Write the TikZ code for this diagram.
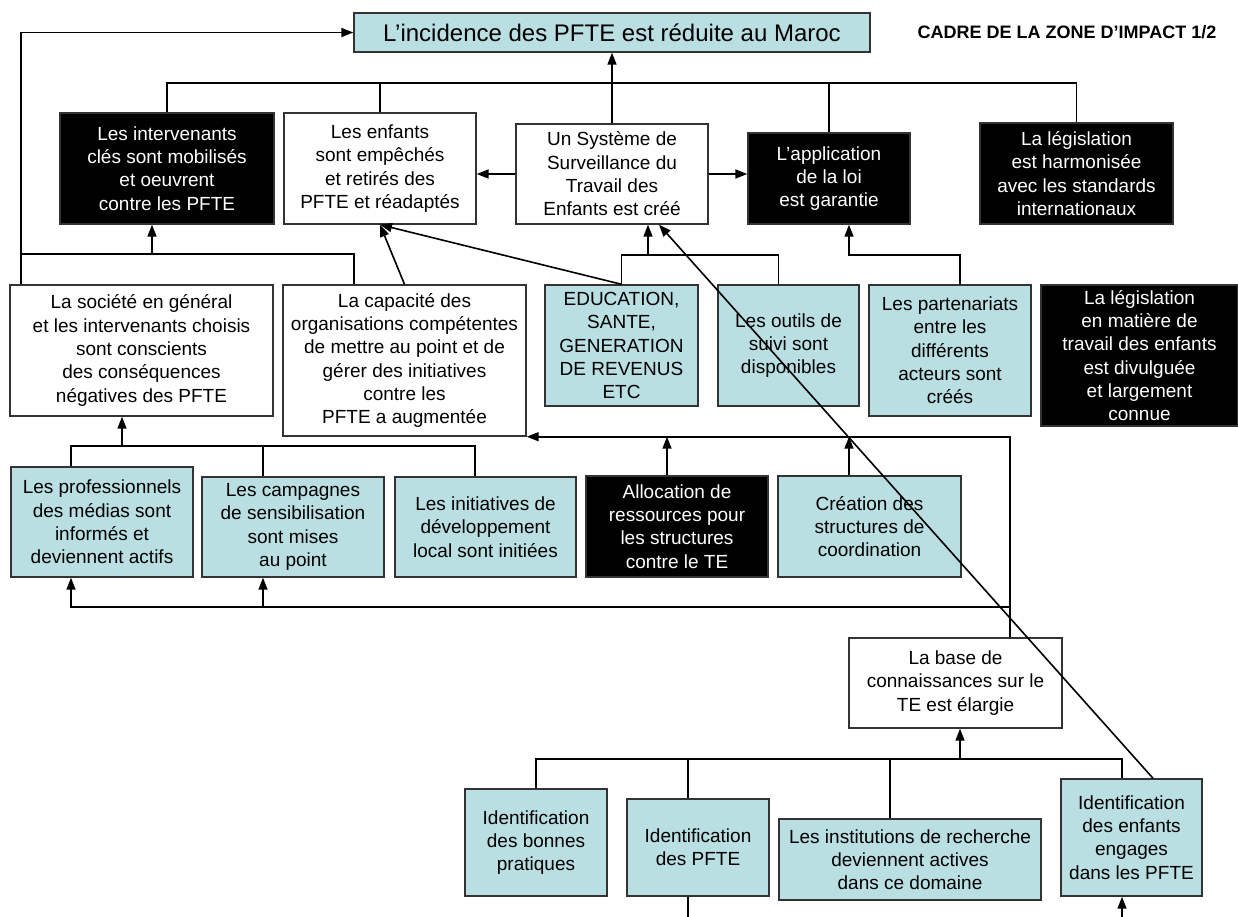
\documentclass[tikz,border=0pt]{standalone}
\usepackage{fontspec}
\setmainfont{Liberation Sans}
\usetikzlibrary{arrows.meta}
\definecolor{paleblue}{RGB}{185,223,227}

\begin{document}
\begin{tikzpicture}[
    x=1pt, y=-1pt,
    >={Triangle[length=12pt,width=9pt]},
    line width=1.6pt,
    block/.style={draw=black!80, fill=white, align=center, inner sep=0pt, line width=1.4pt, font=\fontsize{19}{23.3}\selectfont},
    blueblock/.style={block, fill=paleblue},
    darkblock/.style={block, fill=black, text=white},
    dims/.style 2 args={minimum width=#1pt, minimum height=#2pt}
  ]
    \useasboundingbox (0,0) rectangle (1238,917);
    \node[blueblock, dims={516}{39}, font=\fontsize{24}{28}\selectfont] (title) at (612,32.5) {L’incidence des PFTE est réduite au Maroc};
    \node[font=\fontsize{18}{20}\selectfont\bfseries, inner sep=0pt] (cadre) at (1067,32) {CADRE DE LA ZONE D’IMPACT 1/2};

    \node[darkblock, dims={214}{111}] (interv) at (167,168.5) {Les intervenants\\clés sont mobilisés\\et oeuvrent\\contre les PFTE};
    \node[block, dims={192}{111}] (enfants) at (380,168.5) {Les enfants\\sont empêchés\\et retirés des\\PFTE et réadaptés};
    \node[block, dims={192}{100}] (systeme) at (612,174) {Un Système de\\Surveillance du\\Travail des\\Enfants est créé};
    \node[darkblock, dims={162}{91}] (appli) at (829,178.5) {L’application\\de la loi\\est garantie};
    \node[darkblock, dims={193}{101}] (harmon) at (1076.5,173.5) {La législation\\est harmonisée\\avec les standards\\internationaux};

    \node[block, dims={263}{131}] (societe) at (141.5,350.5) {La société en général\\et les intervenants choisis\\sont conscients\\des conséquences\\négatives des PFTE};
    \node[block, dims={243}{151}] (capacite) at (404.5,360.5) {La capacité des\\organisations compétentes\\de mettre au point et de\\gérer des initiatives\\contre les\\PFTE a augmentée};
    \node[blueblock, dims={153}{121}] (education) at (621.5,345.5) {EDUCATION,\\SANTE,\\GENERATION\\DE REVENUS\\ETC};
    \node[blueblock, dims={141}{121}] (outils) at (788.5,345.5) {Les outils de\\suivi sont\\disponibles};
    \node[blueblock, dims={162}{131}] (parten) at (950,350.5) {Les partenariats\\entre les\\différents\\acteurs sont\\créés};
    \node[darkblock, dims={197}{141}] (divulg) at (1139.5,355.5) {La législation\\en matière de\\travail des enfants\\est divulguée\\et largement\\connue};

    \node[blueblock, dims={182}{110}] (medias) at (102,522) {Les professionnels\\des médias sont\\informés et\\deviennent actifs};
    \node[blueblock, dims={182}{100}] (campagnes) at (293,527) {Les campagnes\\de sensibilisation\\sont mises\\au point};
    \node[blueblock, dims={181}{100}] (initiatives) at (485.5,527) {Les initiatives de\\développement\\local sont initiées};
    \node[darkblock, dims={182}{101}] (allocation) at (677,526.5) {Allocation de\\ressources pour\\les structures\\contre le TE};
    \node[blueblock, dims={183}{101}] (creation) at (869.5,526.5) {Création des\\structures de\\coordination};

    \node[block, dims={213}{90}] (base) at (955.5,683) {La base de\\connaissances sur le\\TE est élargie};
    \node[blueblock, dims={142}{107}] (bonnes) at (536,842.5) {Identification\\des bonnes\\pratiques};
    \node[blueblock, dims={142}{97}] (idpfte) at (698,847.5) {Identification\\des PFTE};
    \node[blueblock, dims={262}{81}] (institutions) at (910,859.5) {Les institutions de recherche\\deviennent actives\\dans ce domaine};
    \node[blueblock, dims={141}{117}] (engages) at (1131.5,837.5) {Identification\\des enfants\\engages\\dans les PFTE};

    % top level
    \coordinate (topbus) at (0,83);
    \draw (interv.north) |- (harmon.north |- topbus) -- (harmon.north);
    \draw (enfants.north) -- (enfants.north |- topbus);
    \draw (appli.north) -- (appli.north |- topbus);
    \draw[->] (systeme.north) -- (systeme.north |- title.south);
    \draw[->] (systeme.west) -- (systeme.west -| enfants.east);
    \draw[->] (systeme.east) -- (systeme.east -| appli.west);

    % feedback and middle bus
    \coordinate (midbus) at (0,254);
    \draw[->] ([xshift=-120.5pt]societe.north) |- (title.west);
    \draw ([xshift=-120.5pt]societe.north |- midbus) -| ([xshift=-50.5pt]capacite.north);
    \draw[->] ([xshift=-15pt]interv.south |- midbus) -- ([xshift=-15pt]interv.south);
    \draw[->] (capacite.north) -- (enfants.south);
    \draw[->] (education.north) -- (enfants.south);

    % surveillance and application
    \coordinate (lowbus) at (0,255);
    \draw (education.north) |- ([xshift=-10pt]outils.north |- lowbus) -- ([xshift=-10pt]outils.north);
    \draw[->] ([xshift=36pt]systeme.south |- lowbus) -- ([xshift=36pt]systeme.south);
    \draw[->] ([xshift=21.5pt]engages.north) -- ([xshift=47pt]systeme.south);
    \draw[->] ([xshift=10pt]parten.north) |- ([xshift=20pt]appli.south |- lowbus) -- ([xshift=20pt]appli.south);

    % societe
    \coordinate (socbus) at (0,446);
    \draw ([xshift=-31pt]medias.north) |- ([xshift=-10.5pt]initiatives.north |- socbus) -- ([xshift=-10.5pt]initiatives.north);
    \draw ([xshift=-30pt]campagnes.north) -- ([xshift=-30pt]campagnes.north |- socbus);
    \draw[->] ([xshift=-19.5pt]societe.south |- socbus) -- ([xshift=-19.5pt]societe.south);

    % capacite
    \coordinate (basebus) at (0,607);
    \draw[->] ([xshift=54.5pt]base.north) |- (capacite.south east);
    \draw[->] ([xshift=-10pt]allocation.north) -- ([xshift=-10pt]allocation.north |- capacite.south);
    \draw[->] ([xshift=-20.5pt]creation.north) -- ([xshift=-20.5pt]creation.north |- capacite.south);
    \draw[->] ([xshift=54.5pt]base.north |- basebus) -| ([xshift=-31pt]medias.south);
    \draw[->] ([xshift=-30pt]campagnes.south |- basebus) -- ([xshift=-30pt]campagnes.south);

    % base de connaissances
    \coordinate (kbus) at (0,759);
    \coordinate (cutA) at (688,917);
    \coordinate (cutB) at (1122,917);
    \draw (bonnes.north) |- ([xshift=-9.5pt]engages.north |- kbus) -- ([xshift=-9.5pt]engages.north);
    \draw ([xshift=-10pt]idpfte.north) -- ([xshift=-10pt]idpfte.north |- kbus);
    \draw ([xshift=-20pt]institutions.north) -- ([xshift=-20pt]institutions.north |- kbus);
    \draw[->] ([xshift=4.5pt]base.south |- kbus) -- ([xshift=4.5pt]base.south);
    \draw ([xshift=-10pt]idpfte.south) -- (cutA);
    \draw[->] (cutB) -- ([xshift=-9.5pt]engages.south);
  \end{tikzpicture}
\end{document}
